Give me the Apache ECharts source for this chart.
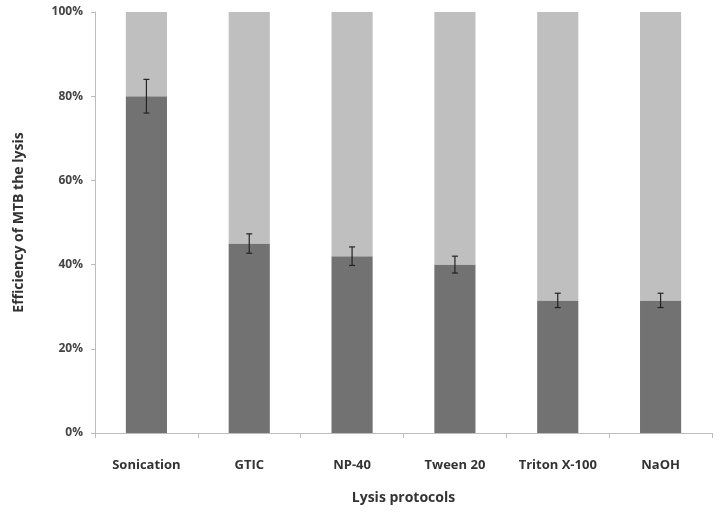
<!DOCTYPE html>
<html>
<head>
<meta charset="utf-8">
<script src="https://cdn.jsdelivr.net/npm/echarts@6/dist/echarts.min.js"></script>
<style>
    html, body { margin: 0; padding: 0; background: #fff; }
    #main { width: 721px; height: 514px; }
</style>
</head>
<body>
<div id="main"></div>
<script>
//--------------------数据---------------------------
var categories = ['Sonication', 'GTIC', 'NP-40', 'Tween 20', 'Triton X-100', 'NaOH'];
var efficiency = [80, 45, 42, 40, 31.5, 31.5];     // 深色部分 (%)
var errors = [4, 2.3, 2.2, 2, 1.7, 1.7];          // 误差
var yTicks = [0, 20, 40, 60, 80, 100];
//--------------------数据---------------------------

var rest = efficiency.map(function (v) { return 100 - v; });
var errData = efficiency.map(function (v, i) { return [i, v - errors[i], v + errors[i]]; });

var myChart = echarts.init(document.getElementById('main'));
var font = '"Open Sans", "DejaVu Sans", sans-serif';

option = {
    animation: false,
    grid: {
        left: 95,
        right: 9,
        top: 12,
        bottom: 81
    },
    xAxis: {
        type: 'category',
        data: categories,
        name: 'Lysis protocols',
        nameLocation: 'middle',
        nameGap: 58,
        nameTextStyle: { color: '#333', fontSize: 14, fontWeight: 'bold', fontFamily: font },
        axisLine: { lineStyle: { color: '#bdbdbd', width: 1 } },
        axisTick: { show: true, length: 5, lineStyle: { color: '#bdbdbd' } },
        axisLabel: { color: '#333', fontSize: 13, fontWeight: 'bold', fontFamily: font, margin: 26 }
    },
    yAxis: {
        type: 'value',
        min: 0,
        max: 100,
        interval: 20,
        name: 'Efficiency of MTB the lysis',
        nameLocation: 'middle',
        nameGap: 69,
        nameTextStyle: { color: '#333', fontSize: 14, fontWeight: 'bold', fontFamily: font },
        axisLine: { show: true, lineStyle: { color: '#bdbdbd', width: 1 } },
        axisTick: { show: true, length: 4, lineStyle: { color: '#bdbdbd' } },
        splitLine: { show: false },
        axisLabel: {
            color: '#444', fontSize: 12, fontWeight: 'bold', fontFamily: font, margin: 12,
            formatter: function (v) { return yTicks.indexOf(v) >= 0 ? v + '%' : ''; }
        }
    },
    series: [
        {
            name: 'lysis',
            type: 'bar',
            stack: 'total',
            barWidth: '40%',
            data: efficiency,
            itemStyle: { color: '#727272' }
        },
        {
            name: 'rest',
            type: 'bar',
            stack: 'total',
            barWidth: '40%',
            data: rest,
            itemStyle: { color: '#bfbfbf' }
        },
        {
            name: 'error',
            type: 'custom',
            data: errData,
            z: 10,
            renderItem: function (params, api) {
                var x = api.value(0);
                var lo = api.coord([x, api.value(1)]);
                var hi = api.coord([x, api.value(2)]);
                var cap = 3;
                var st = { stroke: '#222', lineWidth: 1.2 };
                return {
                    type: 'group',
                    children: [
                        { type: 'line', shape: { x1: hi[0], y1: hi[1], x2: lo[0], y2: lo[1] }, style: st },
                        { type: 'line', shape: { x1: hi[0] - cap, y1: hi[1], x2: hi[0] + cap, y2: hi[1] }, style: st },
                        { type: 'line', shape: { x1: lo[0] - cap, y1: lo[1], x2: lo[0] + cap, y2: lo[1] }, style: st }
                    ]
                };
            }
        }
    ]
};
myChart.setOption(option);
</script>
</body>
</html>
